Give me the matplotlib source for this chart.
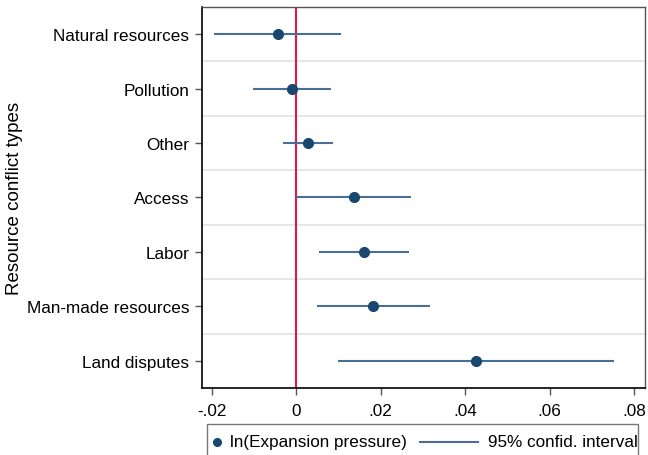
import matplotlib
matplotlib.use("Agg")
import matplotlib.pyplot as plt
from matplotlib.lines import Line2D
from matplotlib.patches import Rectangle

plt.rcParams['font.family'] = ['Liberation Sans', 'DejaVu Sans']

categories = ["Natural resources", "Pollution", "Other", "Access", "Labor",
              "Man-made resources", "Land disputes"]
estimates = [-0.0044, -0.0010, 0.0029, 0.0136, 0.0161, 0.0182, 0.0427]
ci_low = [-0.0194, -0.0101, -0.0030, 0.0000, 0.0055, 0.0049, 0.0100]
ci_high = [0.0107, 0.0083, 0.0088, 0.0273, 0.0267, 0.0317, 0.0752]
xticks = [-0.02, 0, 0.02, 0.04, 0.06, 0.08]
xticklabels = ["-.02", "0", ".02", ".04", ".06", ".08"]
legend_labels = ["ln(Expansion pressure)", "95% confid. interval"]

dot_color = "#1a476f"
line_color = "#4a6f96"
ref_color = "#e0184a"

W, H = 648, 456
fig = plt.figure(figsize=(W / 100, H / 100), dpi=100)
ax = fig.add_axes([0.311, 0.147, 0.6844, 0.8355])

n = len(categories)
ypos = list(range(n, 0, -1))

for i in range(1, n):
    ax.axhline(i + 0.5, color="#e3e3e3", lw=1.2, zorder=0)

ax.axvline(0, color=ref_color, lw=1.5, zorder=1)
ax.hlines(ypos, ci_low, ci_high, color=line_color, lw=1.5, zorder=2)
ax.plot(estimates, ypos, 'o', color=dot_color, ms=7, zorder=3)

ax.set_xlim(-0.0224, 0.0826)
ax.set_ylim(0.5, n + 0.5)
ax.set_yticks(ypos)
ax.set_yticklabels(categories, fontsize=12.3)
ax.set_xticks(xticks)
ax.set_xticklabels(xticklabels, fontsize=12.3)
ax.tick_params(axis='both', length=5, width=1, color="#555555")
ax.tick_params(axis='x', pad=6)
ax.tick_params(axis='y', pad=4)
ax.set_ylabel("Resource conflict types", fontsize=13.5)
ax.yaxis.set_label_coords(-0.403, 0.5)

for s in ['left', 'bottom']:
    ax.spines[s].set_color("black")
    ax.spines[s].set_linewidth(1.2)
for s in ['top', 'right']:
    ax.spines[s].set_color("#555555")
    ax.spines[s].set_linewidth(1.0)

# legend drawn in figure pixel coordinates (box cut off by the bottom edge)
def fx(px):
    return px / W

def fy(py):
    return 1 - py / H

fig.patches.append(Rectangle((fx(207), fy(470)), fx(638) - fx(207), fy(425) - fy(470),
                             transform=fig.transFigure, fill=False,
                             edgecolor="#777777", lw=1.0))
fig.lines.append(Line2D([fx(217)], [fy(443)], marker='o', color=dot_color, ms=5.5,
                        ls='none', transform=fig.transFigure))
fig.text(fx(230), fy(443), legend_labels[0], fontsize=12.3, va='center', ha='left')
fig.lines.append(Line2D([fx(420), fx(478)], [fy(443), fy(443)], color=line_color,
                        lw=1.5, transform=fig.transFigure))
fig.text(fx(488), fy(443), legend_labels[1], fontsize=12.3, va='center', ha='left')

fig.savefig("out.png", dpi=100)
